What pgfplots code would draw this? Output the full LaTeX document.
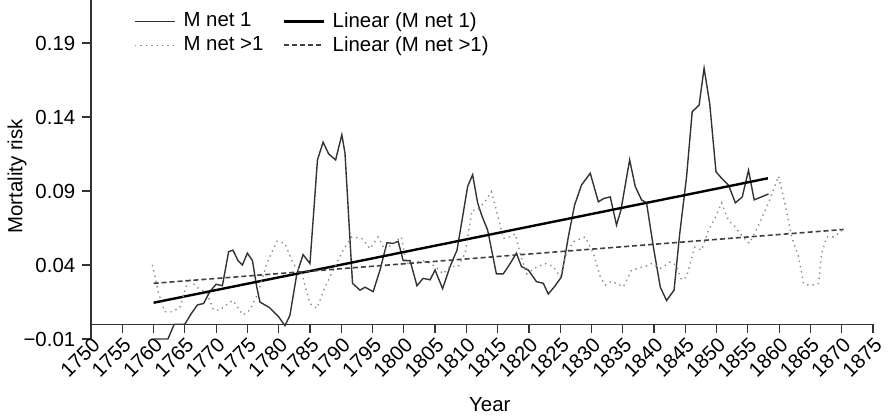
\documentclass[border=0pt]{standalone}
\usepackage{fontspec}
\setmainfont{Liberation Sans}
\usepackage{pgfplots}
\pgfplotsset{compat=1.18}
\begin{document}
\fontsize{10.2}{12.2}\selectfont
\begin{tikzpicture}
\useasboundingbox (0,0) rectangle (444pt,209pt);
\begin{axis}[
 at={(45.5pt,39.5pt)}, anchor=south west,
 scale only axis, width=391pt, height=169.46pt,
 xmin=1750, xmax=1875, ymin=-0.01, ymax=0.219,
 axis y line=left, axis x line=middle,
 hide obscured x ticks=false, hide obscured y ticks=false,
 axis line style={-, black!80, line width=0.7pt},
 every tick/.style={black!80, line width=0.6pt},
 tick align=outside, xtick align=outside, major tick length=4.3pt,
 xtick={1750,1755,...,1875},
 /pgf/number format/1000 sep={},
 /pgf/number format/assume math mode=true,
 xticklabel style={rotate=45, anchor=north east, inner sep=1pt, font=\fontsize{10.2}{12}\selectfont},
 ytick={-0.01,0.04,0.09,0.14,0.19},
 yticklabels={−0.01,0.04,0.09,0.14,0.19},
 yticklabel style={font=\fontsize{10.2}{12}\selectfont},
 legend columns=2,
 legend cell align=left,
 legend style={draw=none, fill=none, at={(axis description cs:0.06,1)}, anchor=north west,
   xshift=-5pt, yshift=-2.5pt,
   nodes={inner sep=1.5pt}, font=\fontsize{10.2}{12}\selectfont},
 /tikz/every odd column/.append style={column sep=2.5pt},
 /tikz/every even column/.append style={column sep=8pt},
 legend image code/.code={\draw[#1] plot coordinates {(0cm,0cm) (0.7cm,0cm)};},
 clip=false,
]
\addplot[black!80, line width=0.7pt] coordinates {
(1760,-0.010)(1761,-0.010)(1762.3,-0.010)(1763.3,0.000)(1765,0.000)(1766,0.007)(1767,0.013)(1768,0.014)
(1769,0.022)(1770,0.027)(1771,0.026)(1772,0.049)(1772.7,0.050)(1773.5,0.043)(1774.2,0.040)(1775,0.048)(1775.8,0.043)
(1776.5,0.025)(1777,0.015)(1778.6,0.011)(1780,0.005)(1781,-0.001)(1781.8,0.006)(1782.9,0.034)(1783.9,0.047)
(1785,0.041)(1786.2,0.111)(1787.1,0.123)(1788,0.115)(1789.1,0.111)(1790.1,0.128)(1790.6,0.1155)(1791.8,0.0276)
(1793,0.023)(1793.8,0.025)(1795.1,0.022)(1796.2,0.0366)(1797.3,0.055)(1798.3,0.0546)(1799.1,0.056)(1799.9,0.043)
(1801,0.043)(1802.1,0.026)(1803.1,0.031)(1804.2,0.030)(1805,0.0366)(1806.2,0.024)(1807.4,0.039)(1808.5,0.050)
(1809.3,0.070)(1810.2,0.093)(1811,0.101)(1811.8,0.082)(1812.5,0.073)(1813.4,0.0636)(1814.8,0.034)(1815.9,0.034)
(1817,0.041)(1818,0.048)(1818.8,0.039)(1819.9,0.0366)(1821.2,0.0288)(1822.3,0.0276)(1823.1,0.0204)(1824.2,0.026)
(1825.2,0.032)(1826.3,0.059)(1827.3,0.0805)(1828.4,0.094)(1829.8,0.102)(1831.1,0.0827)(1832,0.085)(1833,0.086)
(1834,0.067)(1834.7,0.077)(1836.1,0.111)(1837,0.093)(1838,0.084)(1838.8,0.082)(1839.9,0.052)(1841,0.025)
(1842,0.016)(1843.2,0.023)(1844.1,0.061)(1845.2,0.0997)(1846.1,0.1436)(1847.2,0.148)(1848,0.173)(1848.9,0.149)
(1849.9,0.103)(1850.8,0.0986)(1851.9,0.094)(1853,0.082)(1854.1,0.086)(1855.1,0.104)(1856,0.084)(1858.3,0.088)
};
\addlegendentry{M net 1}
\addplot[black, line width=1.2pt] coordinates {(1760,0.0145)(1858.2,0.0986)};
\addlegendentry{Linear (M net 1)}
\addplot[black!45, line width=0.7pt, dotted] coordinates {
(1759.8,0.040)(1760.8,0.021)(1761.8,0.0084)(1762.9,0.0084)(1764.2,0.011)(1765.6,0.031)(1766.9,0.025)(1768.5,0.021)
(1769.6,0.0096)(1770.6,0.0096)(1771.9,0.014)(1772.7,0.016)(1774.3,0.0062)(1775.4,0.0096)(1776.7,0.021)(1778.1,0.041)
(1779.7,0.056)(1781,0.0546)(1782.3,0.041)(1783.7,0.034)(1785,0.014)(1786.1,0.0107)(1787.4,0.025)(1789,0.039)
(1790.3,0.050)(1791.7,0.059)(1793.3,0.058)(1794.6,0.051)(1795.9,0.059)(1797,0.050)(1798.6,0.0557)(1799.6,0.059)
(1800.4,0.041)(1801.8,0.042)(1803.4,0.043)(1805,0.039)(1806.3,0.034)(1807.4,0.039)(1808.7,0.039)(1809.8,0.048)
(1810.9,0.077)(1811.7,0.077)(1813,0.083)(1814,0.0895)(1814.8,0.077)(1815.9,0.058)(1817,0.059)(1817.8,0.061)
(1818.6,0.048)(1819.6,0.034)(1821,0.038)(1822.6,0.041)(1823.9,0.039)(1825,0.032)(1826,0.048)(1827.1,0.0557)
(1829,0.059)(1830.3,0.048)(1831.4,0.032)(1832.2,0.0264)(1833.2,0.029)(1835.1,0.0253)(1836.4,0.0366)(1838.6,0.039)
(1839.6,0.041)(1841,0.0377)(1842.6,0.042)(1843.5,0.040)(1844.4,0.030)(1845.2,0.032)(1846.5,0.052)(1847.6,0.050)
(1848.7,0.0636)(1849.8,0.072)(1850.8,0.082)(1851.9,0.070)(1852.9,0.066)(1854,0.060)(1855.2,0.0546)(1856.5,0.065)
(1858.3,0.082)(1859.9,0.100)(1860.9,0.082)(1862,0.059)(1863.1,0.0456)(1863.9,0.0276)(1865,0.026)(1866.3,0.0276)
(1866.8,0.048)(1867.6,0.059)(1868.7,0.059)(1870,0.063)
};
\addlegendentry{M net >1}
\addplot[black!75, line width=0.8pt, dash pattern=on 2.5pt off 1.5pt] coordinates {(1760,0.0276)(1870.3,0.064)};
\addlegendentry{Linear (M net >1)}
\node[rotate=90, anchor=center] at (axis description cs:-0.0946,0.48) {Mortality risk};
\node[anchor=center] at (axis description cs:0.51,0) [yshift=-33pt] {Year};
\end{axis}
\end{tikzpicture}
\end{document}
